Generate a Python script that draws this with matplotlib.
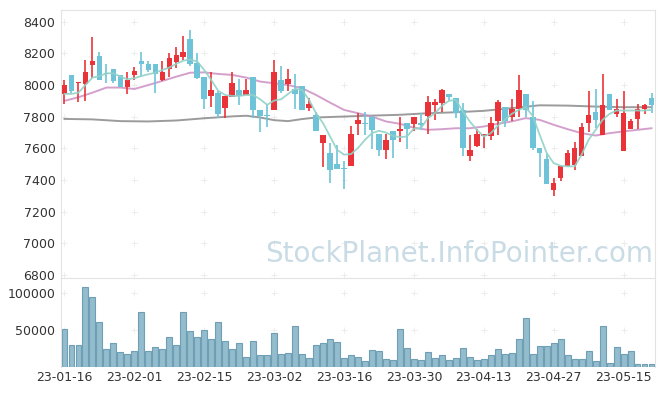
import numpy as np
import matplotlib
matplotlib.use('Agg')
import matplotlib.pyplot as plt

# Daily OHLC (2023-01-16 .. 2023-05-19)
opens = [7946, 8064, 8011, 8009, 8129, 8183, 8076, 8101, 8064, 7990,
         8066, 8152, 8133, 8133, 8030, 8099, 8148, 8179, 8290, 8137,
         8051, 7929, 7950, 7858, 7927, 7967, 7940, 8049, 7843, 7809,
         7845, 8030, 8007, 7975, 7996, 7858, 7809, 7631, 7570, 7503,
         7471, 7486, 7751, 7759, 7797, 7690, 7589, 7709, 7707, 7759,
         7753, 7759, 7807, 7877, 7889, 7944, 7917, 7843, 7549, 7618,
         7681, 7681, 7770, 7860, 7795, 7847, 7944, 7797, 7602, 7532,
         7339, 7410, 7486, 7497, 7549, 7759, 7828, 7683, 7944, 7820,
         7583, 7723, 7788, 7847, 7917]
highs = [8030, 8064, 8022, 8156, 8301, 8206, 8131, 8101, 8064, 8085,
         8116, 8206, 8150, 8133, 8150, 8202, 8238, 8309, 8345, 8200,
         8051, 8085, 7961, 7929, 8080, 8038, 8038, 8049, 7843, 7881,
         8156, 8118, 8099, 8068, 7996, 7917, 7830, 7683, 7633, 7620,
         7520, 7740, 7822, 7828, 7805, 7690, 7688, 7709, 7795, 7759,
         7797, 7822, 7931, 7910, 7975, 7944, 7917, 7889, 7683, 7721,
         7690, 7797, 7904, 7860, 7910, 8064, 7944, 7900, 7602, 7570,
         7410, 7490, 7587, 7637, 7759, 7963, 7977, 8070, 7944, 7910,
         7965, 7786, 7881, 7879, 7948]
lows = [7879, 7952, 7891, 7900, 8043, 8032, 8015, 8011, 7990, 7944,
        8032, 8053, 8085, 7948, 8026, 8049, 8106, 8158, 8122, 8036,
        7847, 7860, 7791, 7791, 7927, 7875, 7940, 7793, 7702, 7738,
        7845, 7948, 7965, 7847, 7845, 7839, 7707, 7484, 7381, 7467,
        7343, 7486, 7686, 7686, 7593, 7553, 7534, 7541, 7643, 7593,
        7711, 7717, 7690, 7780, 7828, 7896, 7791, 7549, 7520, 7608,
        7602, 7650, 7686, 7734, 7770, 7797, 7797, 7591, 7419, 7375,
        7297, 7392, 7486, 7461, 7549, 7702, 7727, 7683, 7843, 7795,
        7583, 7723, 7721, 7818, 7822]
closes = [7998, 7963, 8022, 8082, 8152, 8032, 8072, 8026, 7990, 8032,
          8089, 8135, 8097, 8068, 8082, 8171, 8190, 8208, 8135, 8047,
          7914, 7967, 7820, 7929, 8013, 7929, 7967, 7843, 7805, 7805,
          8082, 7965, 8036, 7946, 7845, 7881, 7707, 7683, 7461, 7467,
          7467, 7692, 7780, 7751, 7719, 7589, 7652, 7652, 7723, 7725,
          7797, 7746, 7893, 7893, 7969, 7927, 7822, 7602, 7589, 7690,
          7690, 7759, 7893, 7770, 7849, 7969, 7843, 7602, 7570, 7375,
          7381, 7490, 7570, 7602, 7738, 7809, 7780, 7872, 7843, 7847,
          7822, 7772, 7847, 7872, 7877]
volumes = [51000, 29200, 29200, 108000, 95600, 61000, 23900, 31900, 19900, 17300,
           21200, 74300, 21200, 26500, 23900, 41200, 30500, 74300, 49100, 41200,
           50400, 38500, 61000, 35800, 23900, 33200, 13300, 35800, 15900, 15900,
           46500, 17300, 18600, 55800, 17300, 11900, 29200, 31900, 38500, 34500,
           11900, 15900, 13300, 8000, 22600, 21200, 10600, 9300, 51800, 25200,
           10600, 9300, 19900, 11900, 15900, 9300, 11900, 25200, 13300, 9300,
           10600, 15900, 23900, 17300, 18600, 38500, 66400, 17300, 27900, 27900,
           33200, 38500, 15900, 10600, 10600, 21200, 8000, 55800, 5300, 26500,
           17300, 21200, 4000, 4000, 4000]

# moving average lines
ma_fast = [7944, 7944, 7952, 8000, 8047, 8057, 8074, 8074, 8053, 8036,
           8043, 8057, 8068, 8078, 8095, 8110, 8134, 8154, 8162, 8148,
           8095, 8032, 7963, 7937, 7931, 7931, 7937, 7937, 7910, 7875,
           7902, 7910, 7944, 7976, 7969, 7906, 7822, 7759, 7675, 7591,
           7560, 7564, 7602, 7654, 7696, 7711, 7700, 7679, 7671, 7675,
           7725, 7727, 7791, 7822, 7868, 7900, 7906, 7833, 7770, 7717,
           7675, 7696, 7742, 7780, 7818, 7843, 7860, 7805, 7686, 7570,
           7507, 7490, 7486, 7486, 7560, 7654, 7717, 7780, 7818, 7839,
           7839, 7839, 7839, 7839, 7843]
ma_mid_idx = list(range(0, 85, 2))
ma_mid = [7900, 7923, 7952, 7984, 7984, 7975, 8000, 8026, 8053, 8078,
          8080, 8070, 8064, 8047, 8022, 8011, 8000, 7980, 7937, 7889,
          7843, 7822, 7801, 7770, 7755, 7730, 7717, 7721, 7727, 7727,
          7738, 7755, 7770, 7791, 7780, 7749, 7721, 7696, 7681, 7696,
          7707, 7717, 7727]
ma_slow_idx = [0, 4, 8, 12, 16, 20, 24, 26, 28, 30, 32, 34, 36, 40, 44, 48,
               52, 56, 60, 64, 68, 72, 76, 80, 84]
ma_slow = [7786, 7783, 7772, 7770, 7776, 7790, 7802, 7806, 7795, 7778, 7772,
           7785, 7795, 7801, 7807, 7812, 7822, 7828, 7837, 7854, 7872, 7870,
           7864, 7860, 7860]

tick_idx = [0, 10, 20, 30, 40, 50, 60, 70, 80]
tick_labels = ['23-01-16', '23-02-01', '23-02-15', '23-03-02', '23-03-16',
               '23-03-30', '23-04-13', '23-04-27', '23-05-15']
price_ticks = [6800, 7000, 7200, 7400, 7600, 7800, 8000, 8200, 8400]
vol_ticks = [50000, 100000]

up_color = '#ea3338'
down_color = '#6ec3d8'
edge_gray = '#e3e3e3'

fig = plt.figure(figsize=(6.65, 3.96), dpi=100)
ax = fig.add_axes([61 / 665, 1 - 278 / 396, 594 / 665, 268 / 396])
axv = fig.add_axes([61 / 665, 1 - 367 / 396, 594 / 665, 89 / 396], sharex=ax)

x = np.arange(len(opens))
o = np.array(opens)
c = np.array(closes)
up = c >= o
colors = np.where(up, up_color, down_color)
body_bottom = np.minimum(o, c)
body_height = np.maximum(np.abs(c - o), 6)

ax.vlines(x, lows, highs, colors=colors, linewidth=1.2, zorder=3)
ax.bar(x, body_height, bottom=body_bottom, width=0.8, color=colors, zorder=4)

ax.plot(ma_slow_idx, ma_slow, color='#8a8a8a', lw=1.4, alpha=0.85, zorder=2)
ax.plot(ma_mid_idx, ma_mid, color='#cc90c4', lw=1.4, alpha=0.85, zorder=2)
ax.plot(x, ma_fast, color='#92d2c8', lw=1.3, alpha=0.9, zorder=5)

ax.set_ylim(6781, 8474)
ax.set_yticks(price_ticks)
ax.set_xlim(-0.5, len(opens) - 0.5)

ax.text(0.997, 0.088, 'StockPlanet.InfoPointer.com', transform=ax.transAxes,
        ha='right', va='center', fontsize=20, color='#bcd3de', alpha=0.8,
        zorder=1)

axv.bar(x, volumes, width=0.85, color='#93bccd', edgecolor='#6e9fb5',
        linewidth=0.8)
axv.set_ylim(0, 120700)
axv.set_yticks(vol_ticks)
axv.set_xticks(tick_idx)
axv.set_xticklabels(tick_labels)

# small '+' markers at grid crossings
gx, gy = np.meshgrid(tick_idx, price_ticks)
ax.scatter(gx.ravel(), gy.ravel(), marker='+', s=14, color='#ececec',
           linewidths=0.7, zorder=0)
gx, gy = np.meshgrid(tick_idx, vol_ticks)
axv.scatter(gx.ravel(), gy.ravel(), marker='+', s=14, color='#ececec',
            linewidths=0.7, zorder=0)

for a in (ax, axv):
    for side in ('left', 'top', 'right'):
        a.spines[side].set_color(edge_gray)
    a.spines['bottom'].set_visible(False)
    a.tick_params(length=0, labelsize=9, colors='#333333', pad=4)
ax.tick_params(axis='x', labelbottom=False)
axv.tick_params(axis='x', pad=3)

fig.savefig('out.png', dpi=100)
